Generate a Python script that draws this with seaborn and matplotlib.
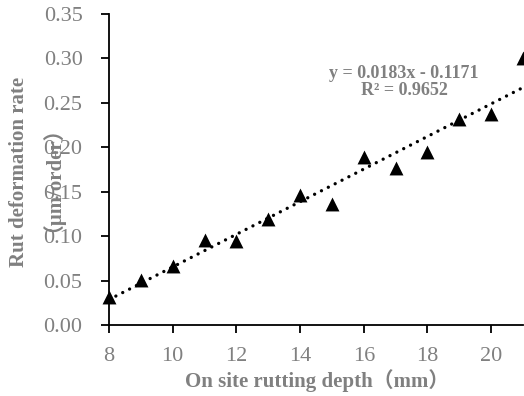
import matplotlib
matplotlib.use('Agg')
import matplotlib.pyplot as plt
import seaborn as sns
import pandas as pd
import numpy as np

# Values
rut_depth = [8, 9, 10, 11, 12, 13, 14, 15, 16, 17, 18, 19, 20, 21]
deform_rate = [0.031, 0.051, 0.066, 0.096, 0.095, 0.119, 0.146, 0.136,
               0.189, 0.177, 0.195, 0.232, 0.237, 0.301]
x_ticks = [8, 10, 12, 14, 16, 18, 20]
y_ticks = [0.00, 0.05, 0.10, 0.15, 0.20, 0.25, 0.30, 0.35]
equation_text = 'y = 0.0183x - 0.1171\nR² = 0.9652'

df = pd.DataFrame({'depth': rut_depth, 'rate': deform_rate})

sns.set_style('ticks')
plt.rcParams['font.family'] = ['Liberation Serif', 'Noto Sans CJK SC', 'DejaVu Sans']

gray = '#808080'

fig = plt.figure(figsize=(5.24, 3.96), dpi=100)
ax = fig.add_axes([109 / 524, 71 / 396, 414 / 524, 311 / 396])

# Scatter points plus dotted linear trend line
sns.regplot(data=df, x='depth', y='rate', ax=ax, ci=None, marker='^',
            scatter_kws={'s': 100, 'color': 'black', 'alpha': 1,
                         'linewidths': 0, 'clip_on': False, 'zorder': 3},
            line_kws={'color': 'black', 'linewidth': 2.4,
                      'linestyle': (0, (0.01, 2.3)),
                      'dash_capstyle': 'round', 'zorder': 2})

ax.set_xlim(8, 21)
ax.set_ylim(0, 0.35)
ax.set_xticks(x_ticks)
ax.set_yticks(y_ticks)
ax.set_yticklabels([f'{v:.2f}' for v in y_ticks])
ax.tick_params(axis='both', direction='out', length=6, width=1.3,
               color='black', labelsize=16, labelcolor=gray)
ax.tick_params(axis='y', pad=13)
ax.tick_params(axis='x', pad=10)
for side in ['left', 'bottom']:
    ax.spines[side].set_linewidth(1.3)
    ax.spines[side].set_color('black')
sns.despine(ax=ax)
ax.set_xlabel('')
ax.set_ylabel('')

# Axis titles
fig.text(317 / 524, 1 - 381 / 396, 'On site rutting depth（mm）',
         ha='center', va='center', fontsize=15, fontweight='bold', color=gray)
fig.text(19 / 524, 1 - 172 / 396, 'Rut deformation rate', rotation=90,
         ha='center', va='center', fontsize=15, fontweight='bold', color=gray)
fig.text(42 / 524, 1 - 169 / 396, '（μm/order）', rotation=90,
         ha='center', va='center', fontsize=15, fontweight='bold', color=gray)

# Trend line equation
fig.text(404 / 524, 1 - 82 / 396, equation_text, ha='center', va='center',
         fontsize=13, fontweight='bold', color=gray, linespacing=1.05,
         multialignment='center')

fig.savefig('out.png', dpi=100)
